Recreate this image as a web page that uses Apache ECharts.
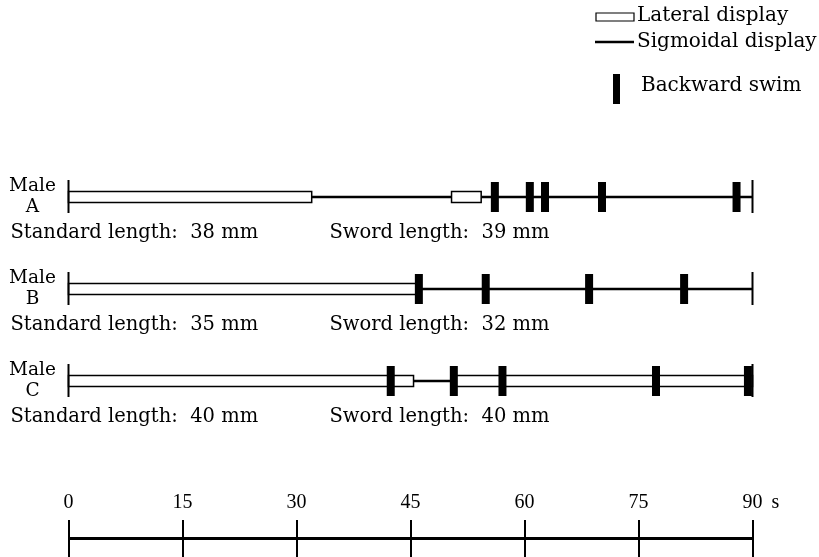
<!DOCTYPE html>
<html>
<head>
<meta charset="utf-8">
<script src="https://cdn.jsdelivr.net/npm/echarts@6/dist/echarts.min.js"></script>
<style>
  html, body { margin: 0; padding: 0; background: #fff; }
  #chart { width: 819px; height: 557px; }
</style>
</head>
<body>
<div id="chart"></div>
<script>
// ---- data ----
const rows = ['Male\nA', 'Male\nB', 'Male\nC'];
const standardLengths = [38, 35, 40];   // mm
const swordLengths = [39, 32, 40];      // mm
// time intervals (s) of each behaviour per male
const lateralA = [[0, 32], [50.4, 54.3]];
const sigmoidA = [[32, 50.4], [54.3, 90]];
const swimA = [56.1, 60.7, 62.7, 70.2, 87.9];
const lateralB = [[0, 46]];
const sigmoidB = [[46, 90]];
const swimB = [46.1, 54.9, 68.5, 81.0];
const lateralC = [[0, 45.4], [50.7, 90]];
const sigmoidC = [[45.4, 50.7]];
const swimC = [42.4, 50.7, 57.1, 77.3, 89.4];
const timeMin = 0, timeMax = 90, timeStep = 15;
const timeUnit = 's';
const legendNames = ['Lateral display', 'Sigmoidal display', 'Backward swim'];

// ---- build series data ----
const lateralData = [], sigmoidData = [], swimData = [], endData = [], labelData = [];
[[lateralA, sigmoidA, swimA], [lateralB, sigmoidB, swimB], [lateralC, sigmoidC, swimC]].forEach((r, i) => {
  r[0].forEach(s => lateralData.push([i, s[0], s[1]]));
  r[1].forEach(s => sigmoidData.push([i, s[0], s[1]]));
  r[2].forEach(t => swimData.push([i, t]));
  endData.push([i, timeMin], [i, timeMax]);
  labelData.push([i, standardLengths[i], swordLengths[i]]);
});

const serif = 'DejaVu Serif';
const txtFont = '19.5px "' + serif + '"';
const legFont = '20px "' + serif + '"';
const chart = echarts.init(document.getElementById('chart'), null, { renderer: 'canvas' });

chart.setOption({
  backgroundColor: '#fff',
  animation: false,
  grid: [
    { left: 68.5, width: 684, top: 151, height: 276 },
    { left: 68.5, width: 684, top: 520, height: 37 }
  ],
  xAxis: [
    { gridIndex: 0, type: 'value', min: timeMin, max: timeMax, show: false },
    {
      gridIndex: 1, type: 'value', min: timeMin, max: timeMax, interval: timeStep,
      position: 'top',
      axisLine: { show: false, onZero: false }, axisTick: { show: false },
      splitLine: { show: true, lineStyle: { color: '#000', width: 2 } },
      axisLabel: { show: true, margin: 7, color: '#000', fontFamily: 'Liberation Serif', fontSize: 20 },
      name: timeUnit, nameLocation: 'end', nameGap: 19,
      nameTextStyle: { color: '#000', fontFamily: 'Liberation Serif', fontSize: 20, verticalAlign: 'bottom', padding: [0, 0, 7, 0] }
    }
  ],
  yAxis: [
    {
      gridIndex: 0, type: 'category', data: rows, inverse: true,
      axisLine: { show: false }, axisTick: { show: false }, splitLine: { show: false },
      axisLabel: { margin: 36, align: 'center', color: '#000', fontFamily: serif, fontSize: 18.5, lineHeight: 21 }
    },
    { gridIndex: 1, type: 'value', min: 0, max: 2, show: false }
  ],
  series: [
    {
      type: 'line', xAxisIndex: 1, yAxisIndex: 1, data: [[timeMin, 1], [timeMax, 1]],
      symbol: 'none', lineStyle: { color: '#000', width: 3 }, silent: true
    },
    {
      name: legendNames[1], type: 'custom', xAxisIndex: 0, yAxisIndex: 0, data: sigmoidData,
      encode: { x: [1, 2], y: 0 },
      renderItem: (p, api) => {
        const s = api.coord([api.value(1), api.value(0)]);
        const e = api.coord([api.value(2), api.value(0)]);
        return { type: 'line', shape: { x1: s[0], y1: s[1], x2: e[0], y2: e[1] }, style: { stroke: '#000', lineWidth: 2.5 } };
      }
    },
    {
      name: legendNames[0], type: 'custom', xAxisIndex: 0, yAxisIndex: 0, data: lateralData,
      encode: { x: [1, 2], y: 0 },
      renderItem: (p, api) => {
        const s = api.coord([api.value(1), api.value(0)]);
        const e = api.coord([api.value(2), api.value(0)]);
        return { type: 'rect', shape: { x: s[0], y: s[1] - 5.5, width: e[0] - s[0], height: 11 }, style: { fill: '#fff', stroke: '#000', lineWidth: 1.5 } };
      }
    },
    {
      name: 'ends', type: 'custom', xAxisIndex: 0, yAxisIndex: 0, data: endData,
      encode: { x: 1, y: 0 },
      renderItem: (p, api) => {
        const c = api.coord([api.value(1), api.value(0)]);
        return { type: 'line', shape: { x1: c[0], y1: c[1] - 17, x2: c[0], y2: c[1] + 16 }, style: { stroke: '#000', lineWidth: 2 } };
      }
    },
    {
      name: legendNames[2], type: 'custom', xAxisIndex: 0, yAxisIndex: 0, data: swimData,
      encode: { x: 1, y: 0 },
      renderItem: (p, api) => {
        const c = api.coord([api.value(1), api.value(0)]);
        return { type: 'rect', shape: { x: c[0] - 4, y: c[1] - 15, width: 8, height: 30 }, style: { fill: '#000' } };
      }
    },
    {
      name: 'labels', type: 'custom', xAxisIndex: 0, yAxisIndex: 0, data: labelData,
      encode: { x: 1, y: 0 },
      renderItem: (p, api) => {
        const c = api.coord([timeMin, api.value(0)]);
        return {
          type: 'group', children: [
            { type: 'text', x: c[0] - 58, y: c[1] + 36, style: { text: 'Standard length:  ' + api.value(1) + ' mm', font: txtFont, fill: '#000', verticalAlign: 'middle' } },
            { type: 'text', x: c[0] + 261, y: c[1] + 36, style: { text: 'Sword length:  ' + api.value(2) + ' mm', font: txtFont, fill: '#000', verticalAlign: 'middle' } }
          ]
        };
      }
    }
  ],
  graphic: [
    { type: 'rect', shape: { x: 596, y: 13, width: 38, height: 8 }, style: { fill: '#fff', stroke: '#000', lineWidth: 1.2 } },
    { type: 'text', x: 637, y: 16, style: { text: legendNames[0], font: legFont, fill: '#000', verticalAlign: 'middle' } },
    { type: 'line', shape: { x1: 595, y1: 42, x2: 634, y2: 42 }, style: { stroke: '#000', lineWidth: 2.5 } },
    { type: 'text', x: 637, y: 42, style: { text: legendNames[1], font: legFont, fill: '#000', verticalAlign: 'middle' } },
    { type: 'rect', shape: { x: 613, y: 74, width: 7, height: 30 }, style: { fill: '#000' } },
    { type: 'text', x: 641, y: 86, style: { text: legendNames[2], font: legFont, fill: '#000', verticalAlign: 'middle' } }
  ]
});
</script>
</body>
</html>
